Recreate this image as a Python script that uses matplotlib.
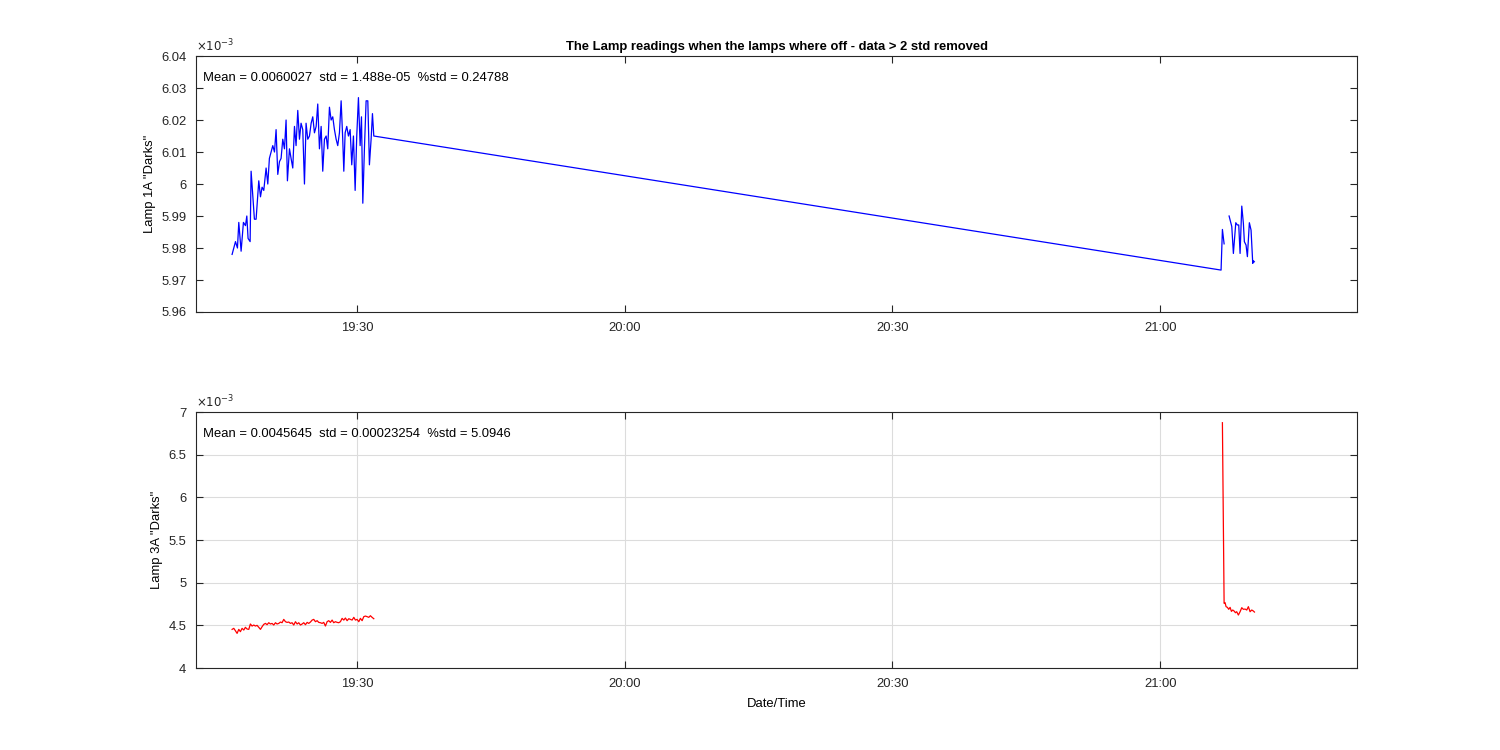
import numpy as np
import pandas as pd
import matplotlib
matplotlib.use('Agg')
from matplotlib import pyplot as plt
import matplotlib.dates as mdates

plt.rcParams['font.family'] = ['Liberation Sans', 'DejaVu Sans']

# times are minutes after 19:00, values in units of 1e-3
t_1a = [15.99, 16.37, 16.59, 16.74, 17.00, 17.26, 17.49, 17.64, 17.78, 18.01,
        18.12, 18.49, 18.68, 18.98, 19.17, 19.35, 19.54, 19.80, 19.99, 20.17,
        20.36, 20.55, 20.74, 20.92, 21.11, 21.30, 21.48, 21.67, 21.86, 22.04,
        22.19, 22.42, 22.60, 22.79, 22.98, 23.16, 23.35, 23.54, 23.72, 23.91,
        24.10, 24.28, 24.47, 24.66, 24.85, 25.03, 25.22, 25.41, 25.59, 25.78,
        25.97, 26.15, 26.34, 26.53, 26.71, 26.90, 27.09, 27.27, 27.46, 27.65,
        27.83, 28.02, 28.21, 28.39, 28.51, 28.66, 28.84, 29.03, 29.22, 29.40,
        29.59, 29.78, 29.96, 30.15, 30.34, 30.49, 30.64, 30.82, 31.01, 31.20,
        31.38, 31.57, 31.72, 31.87,
        126.83, 126.98, 127.17, np.nan,
        127.73, 128.03, 128.21, 128.48, 128.65, 128.81, 128.96, 129.15, 129.33,
        129.44, 129.63, 129.78, 130.00, 130.19, 130.38, 130.45, 130.56]
v_1a = [5.978, 5.982, 5.980, 5.988, 5.979, 5.988, 5.987, 5.990, 5.983, 5.982,
        6.004, 5.989, 5.989, 6.001, 5.996, 5.999, 5.998, 6.005, 6.000, 6.008,
        6.010, 6.012, 6.010, 6.017, 6.003, 6.007, 6.008, 6.014, 6.011, 6.020,
        6.001, 6.011, 6.008, 6.005, 6.018, 6.012, 6.023, 6.014, 6.019, 6.017,
        6.000, 6.019, 6.014, 6.015, 6.019, 6.021, 6.016, 6.018, 6.025, 6.011,
        6.018, 6.004, 6.014, 6.015, 6.011, 6.024, 6.020, 6.021, 6.017, 6.014,
        6.012, 6.016, 6.026, 6.014, 6.004, 6.016, 6.018, 6.015, 6.017, 6.006,
        6.015, 5.998, 6.015, 6.027, 6.012, 6.021, 5.994, 6.011, 6.026, 6.026,
        6.006, 6.014, 6.022, 6.015,
        5.9731, 5.9858, 5.9813, np.nan,
        5.9900, 5.9867, 5.9783, 5.9879, 5.9872, 5.9872, 5.9783, 5.9931, 5.9877,
        5.9820, 5.9809, 5.9773, 5.9879, 5.9856, 5.9752, 5.9760, 5.9757]

t_3a = [15.99, 16.18, 16.36, 16.55, 16.74, 16.92, 17.11, 17.30, 17.48, 17.67,
        17.86, 18.04, 18.23, 18.42, 18.60, 18.79, 18.98, 19.17, 19.35, 19.54,
        19.73, 19.91, 20.10, 20.29, 20.47, 20.66, 20.85, 21.03, 21.22, 21.41,
        21.59, 21.78, 21.97, 22.15, 22.34, 22.53, 22.71, 22.90, 23.09, 23.28,
        23.46, 23.65, 23.84, 24.02, 24.21, 24.40, 24.58, 24.77, 24.96, 25.14,
        25.33, 25.52, 25.70, 25.89, 26.08, 26.26, 26.45, 26.64, 26.82, 27.01,
        27.20, 27.38, 27.57, 27.76, 27.94, 28.13, 28.32, 28.51, 28.69, 28.88,
        29.07, 29.25, 29.44, 29.63, 29.81, 30.00, 30.19, 30.37, 30.56, 30.75,
        30.93, 31.12, 31.31, 31.49, 31.68, 31.87,
        np.nan,
        126.98, 127.17, 127.28, 127.39, 127.54, 127.69, 127.84, 127.99, 128.14,
        128.29, 128.44, 128.58, 128.77, 128.96, 129.15, 129.33, 129.52, 129.71,
        129.89, 130.08, 130.27, 130.45, 130.57]
v_3a = [4.453, 4.465, 4.437, 4.406, 4.453, 4.426, 4.465, 4.445, 4.477, 4.457,
        4.453, 4.516, 4.492, 4.504, 4.492, 4.500, 4.477, 4.453, 4.484, 4.512,
        4.523, 4.508, 4.531, 4.516, 4.523, 4.504, 4.531, 4.516, 4.523, 4.539,
        4.531, 4.570, 4.543, 4.535, 4.539, 4.523, 4.531, 4.504, 4.543, 4.516,
        4.531, 4.504, 4.516, 4.531, 4.508, 4.535, 4.523, 4.539, 4.562, 4.570,
        4.543, 4.555, 4.535, 4.531, 4.523, 4.535, 4.492, 4.543, 4.555, 4.535,
        4.562, 4.531, 4.543, 4.535, 4.531, 4.543, 4.582, 4.562, 4.586, 4.555,
        4.578, 4.570, 4.562, 4.594, 4.562, 4.570, 4.543, 4.582, 4.555, 4.602,
        4.609, 4.602, 4.594, 4.613, 4.594, 4.578,
        np.nan,
        6.875, 4.758, 4.766, 4.719, 4.711, 4.688, 4.711, 4.664, 4.680,
        4.668, 4.648, 4.660, 4.621, 4.660, 4.707, 4.688, 4.691, 4.680,
        4.719, 4.660, 4.680, 4.668, 4.656]

stats_1a = 'Mean = 0.0060027  std = 1.488e-05  %std = 0.24788'
stats_3a = 'Mean = 0.0045645  std = 0.00023254  %std = 5.0946'
title = 'The Lamp readings when the lamps where off - data > 2 std removed'

t0 = pd.Timestamp('2020-01-01 19:00:00')
def to_time(mins):
    return t0 + pd.to_timedelta(np.array(mins, dtype=float), unit='min')

xlim = (to_time([11.95])[0], to_time([142.07])[0])
xticks = to_time([30, 60, 90, 120])

fs = 9.4

fig = plt.figure(figsize=(15, 7.5), dpi=100)
ax1 = fig.add_axes([0.1307, 0.584, 0.774, 0.3413])
ax2 = fig.add_axes([0.1307, 0.1093, 0.774, 0.3413])

ax1.plot(to_time(t_1a), v_1a, color='blue', linewidth=0.9)
ax2.plot(to_time(t_3a), v_3a, color='red', linewidth=0.9)

ax1.set_ylim(5.96, 6.04)
ax1.set_yticks(np.arange(5.96, 6.0401, 0.01))
ax2.set_ylim(4, 7)
ax2.set_yticks(np.arange(4, 7.01, 0.5))

for ax in (ax1, ax2):
    ax.set_xlim(xlim)
    ax.set_xticks(xticks)
    ax.xaxis.set_major_formatter(mdates.DateFormatter('%H:%M'))
    ax.yaxis.set_major_formatter(plt.FormatStrFormatter('%g'))
    ax.tick_params(direction='in', top=True, right=True, length=5,
                   width=0.8, labelsize=fs, colors='#262626', pad=7)
    for s in ax.spines.values():
        s.set_color('#262626')
        s.set_linewidth(0.8)
    ax.text(0, 1.008, r'$\times10^{-3}$', transform=ax.transAxes,
            fontsize=8.5, color='#262626', ha='left', va='bottom')

ax2.grid(True, color='#dcdcdc', linewidth=0.8)
ax2.set_axisbelow(True)

ax1.text(0.006, 0.915, stats_1a, transform=ax1.transAxes, fontsize=fs, va='center')
ax2.text(0.006, 0.915, stats_3a, transform=ax2.transAxes, fontsize=fs, va='center')

ax1.set_ylabel('Lamp 1A "Darks"', fontsize=fs, labelpad=4)
ax2.set_ylabel('Lamp 3A "Darks"', fontsize=fs, labelpad=4)
ax2.set_xlabel('Date/Time', fontsize=fs, labelpad=6)
ax1.set_title(title, fontsize=fs, fontweight='bold', pad=4)

fig.savefig('out.png', dpi=100)
